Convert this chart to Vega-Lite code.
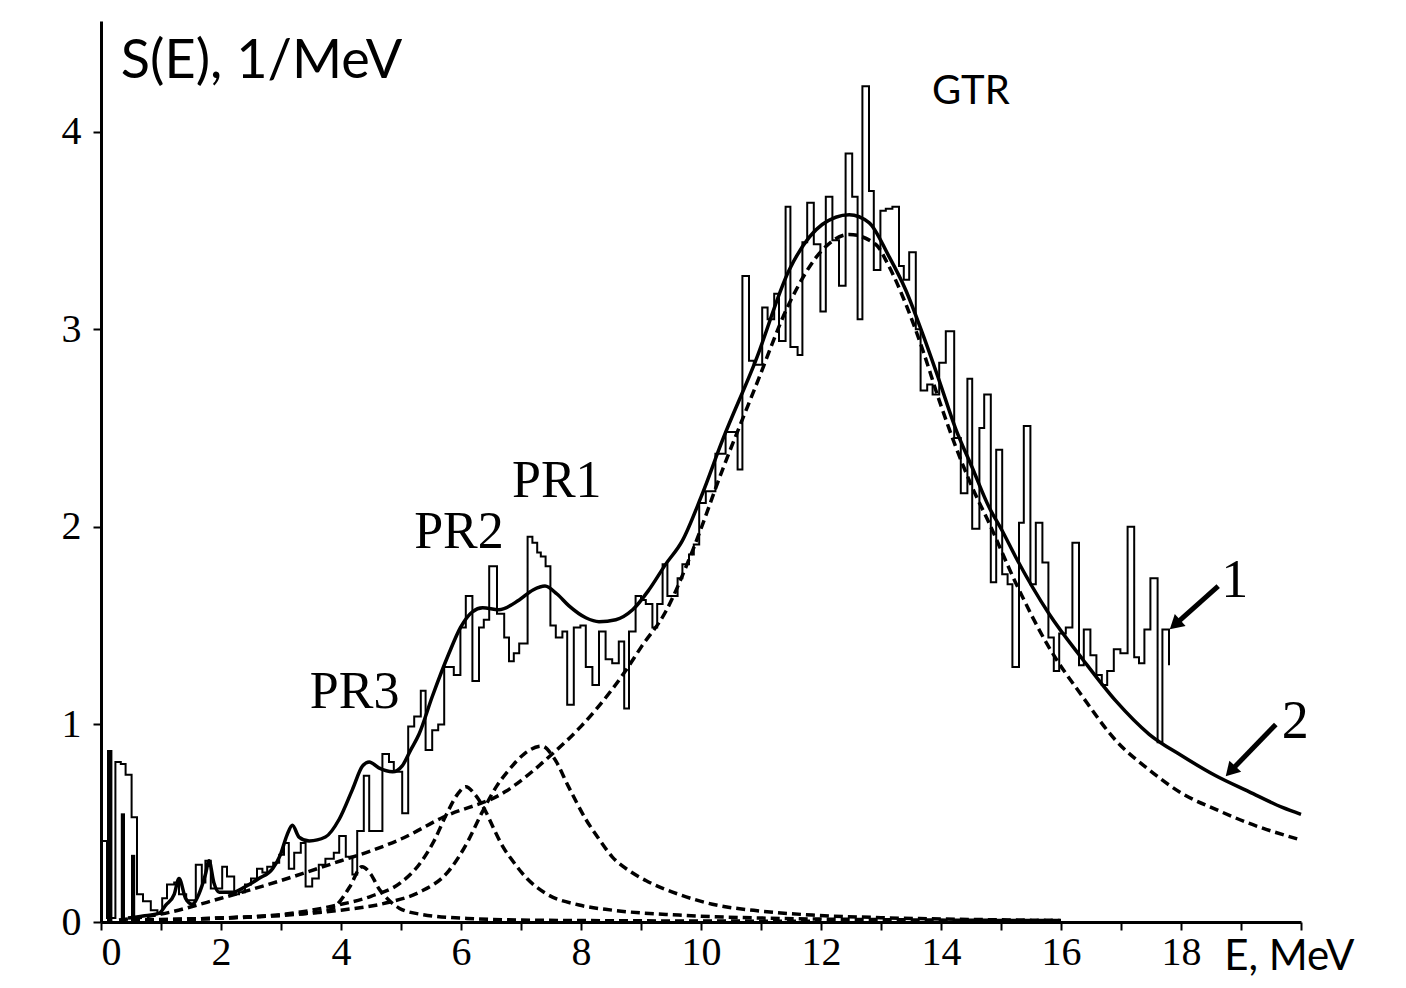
{
  "$schema": "https://vega.github.io/schema/vega-lite/v6.json",
  "width": 1200,
  "height": 901,
  "autosize": "none",
  "padding": {"left": 101, "top": 21, "right": 105, "bottom": 66},
  "background": "white",
  "config": {
    "view": {"stroke": null},
    "axis": {"domainColor": "black", "domainWidth": 3, "tickColor": "black", "tickWidth": 2, "tickSize": 8, "labelFont": "Liberation Serif", "labelFontSize": 40, "labelColor": "black", "grid": false, "title": null, "labelOverlap": false}
  },
  "datasets": {
    "hist": [
      {"E":0.00,"S":0.41},{"E":0.10,"S":0.02},{"E":0.24,"S":0.81},{"E":0.33,"S":0.80},{"E":0.41,"S":0.745},{"E":0.51,"S":0.53},{"E":0.60,"S":0.14},{"E":0.70,"S":0.105},{"E":0.83,"S":0.06},{"E":0.94,"S":0.04},
      {"E":1.02,"S":0.12},{"E":1.10,"S":0.19},{"E":1.22,"S":0.20},{"E":1.30,"S":0.14},{"E":1.42,"S":0.11},{"E":1.58,"S":0.29},{"E":1.68,"S":0.20},{"E":1.74,"S":0.31},{"E":1.83,"S":0.17},{"E":2.02,"S":0.28},
      {"E":2.10,"S":0.23},{"E":2.22,"S":0.14},{"E":2.30,"S":0.15},{"E":2.40,"S":0.19},{"E":2.50,"S":0.22},{"E":2.60,"S":0.27},{"E":2.69,"S":0.25},{"E":2.77,"S":0.28},{"E":2.87,"S":0.30},{"E":2.97,"S":0.34},
      {"E":3.05,"S":0.40},{"E":3.13,"S":0.27},{"E":3.22,"S":0.35},{"E":3.33,"S":0.40},{"E":3.41,"S":0.18},{"E":3.52,"S":0.22},{"E":3.63,"S":0.29},{"E":3.74,"S":0.32},{"E":3.88,"S":0.35},{"E":3.97,"S":0.435},
      {"E":4.08,"S":0.33},{"E":4.19,"S":0.24},{"E":4.27,"S":0.46},{"E":4.38,"S":0.74},{"E":4.47,"S":0.46},{"E":4.58,"S":0.46},{"E":4.69,"S":0.85},{"E":4.80,"S":0.81},{"E":4.88,"S":0.76},{"E":5.02,"S":0.55},
      {"E":5.12,"S":0.99},{"E":5.22,"S":1.04},{"E":5.33,"S":1.17},{"E":5.41,"S":0.87},{"E":5.52,"S":0.97},{"E":5.62,"S":1.00},{"E":5.72,"S":1.29},{"E":5.88,"S":1.25},{"E":5.99,"S":1.49},{"E":6.08,"S":1.65},
      {"E":6.19,"S":1.22},{"E":6.30,"S":1.49},{"E":6.38,"S":1.53},{"E":6.47,"S":1.80},{"E":6.60,"S":1.56},{"E":6.72,"S":1.44},{"E":6.80,"S":1.32},{"E":6.88,"S":1.36},{"E":6.97,"S":1.41},{"E":7.11,"S":1.95},
      {"E":7.19,"S":1.92},{"E":7.27,"S":1.87},{"E":7.33,"S":1.85},{"E":7.41,"S":1.80},{"E":7.49,"S":1.50},{"E":7.58,"S":1.44},{"E":7.69,"S":1.47},{"E":7.77,"S":1.10},{"E":7.88,"S":1.49},{"E":7.99,"S":1.50},
      {"E":8.08,"S":1.29},{"E":8.19,"S":1.20},{"E":8.30,"S":1.47},{"E":8.41,"S":1.33},{"E":8.52,"S":1.31},{"E":8.63,"S":1.42},{"E":8.72,"S":1.08},{"E":8.80,"S":1.47},{"E":8.91,"S":1.65},{"E":9.00,"S":1.63},
      {"E":9.08,"S":1.61},{"E":9.19,"S":1.49},{"E":9.27,"S":1.61},{"E":9.36,"S":1.81},{"E":9.44,"S":1.65},{"E":9.52,"S":1.65},{"E":9.61,"S":1.74},{"E":9.69,"S":1.81},{"E":9.80,"S":1.86},{"E":9.88,"S":1.91},
      {"E":9.97,"S":2.12},{"E":10.08,"S":2.18},{"E":10.24,"S":2.37},{"E":10.41,"S":2.48},{"E":10.61,"S":2.29},{"E":10.69,"S":3.27},{"E":10.80,"S":2.84},{"E":10.88,"S":2.82},{"E":11.02,"S":3.11},{"E":11.11,"S":3.05},
      {"E":11.22,"S":3.18},{"E":11.30,"S":2.94},{"E":11.41,"S":3.62},{"E":11.49,"S":2.91},{"E":11.61,"S":2.87},{"E":11.69,"S":3.44},{"E":11.77,"S":3.64},{"E":11.88,"S":3.43},{"E":11.99,"S":3.09},{"E":12.08,"S":3.67},
      {"E":12.19,"S":3.45},{"E":12.30,"S":3.22},{"E":12.41,"S":3.89},{"E":12.52,"S":3.67},{"E":12.61,"S":3.05},{"E":12.69,"S":4.23},{"E":12.80,"S":3.70},{"E":12.88,"S":3.30},{"E":12.99,"S":3.60},{"E":13.08,"S":3.61},
      {"E":13.19,"S":3.62},{"E":13.30,"S":3.32},{"E":13.38,"S":3.25},{"E":13.47,"S":3.39},{"E":13.58,"S":3.00},{"E":13.66,"S":2.69},{"E":13.77,"S":2.72},{"E":13.86,"S":2.67},{"E":13.97,"S":2.83},{"E":14.08,"S":2.99},
      {"E":14.22,"S":2.45},{"E":14.33,"S":2.17},{"E":14.44,"S":2.75},{"E":14.52,"S":1.99},{"E":14.64,"S":2.50},{"E":14.72,"S":2.67},{"E":14.83,"S":1.72},{"E":14.92,"S":2.39},{"E":15.02,"S":1.76},{"E":15.11,"S":1.71},
      {"E":15.19,"S":1.29},{"E":15.30,"S":2.02},{"E":15.38,"S":2.51},{"E":15.49,"S":1.71},{"E":15.58,"S":2.02},{"E":15.69,"S":1.82},{"E":15.79,"S":1.44},{"E":15.88,"S":1.27},{"E":15.97,"S":1.46},{"E":16.08,"S":1.49},
      {"E":16.19,"S":1.92},{"E":16.30,"S":1.30},{"E":16.38,"S":1.48},{"E":16.49,"S":1.35},{"E":16.59,"S":1.25},{"E":16.68,"S":1.20},{"E":16.77,"S":1.27},{"E":16.88,"S":1.38},{"E":16.99,"S":1.36},{"E":17.11,"S":2.00},
      {"E":17.22,"S":1.34},{"E":17.30,"S":1.31},{"E":17.39,"S":1.48},{"E":17.49,"S":1.74},{"E":17.61,"S":0.91},{"E":17.69,"S":1.48},{"E":17.80,"S":1.30}
    ],
    "bars": [
      {"E":0.10,"E2":0.19,"S":0.87},{"E":0.33,"E2":0.40,"S":0.55},{"E":0.50,"E2":0.57,"S":0.34}
    ],
    "total": [
      {"E":0.45,"S":0.02},{"E":0.7,"S":0.03},{"E":0.97,"S":0.045},{"E":1.08,"S":0.085},{"E":1.22,"S":0.14},{"E":1.30,"S":0.22},{"E":1.41,"S":0.12},{"E":1.52,"S":0.09},{"E":1.63,"S":0.14},{"E":1.74,"S":0.24},
      {"E":1.80,"S":0.31},{"E":1.88,"S":0.20},{"E":1.97,"S":0.15},{"E":2.19,"S":0.15},{"E":2.41,"S":0.18},{"E":2.63,"S":0.22},{"E":2.86,"S":0.27},{"E":2.99,"S":0.34},{"E":3.10,"S":0.44},{"E":3.19,"S":0.49},
      {"E":3.30,"S":0.43},{"E":3.47,"S":0.41},{"E":3.74,"S":0.43},{"E":3.97,"S":0.52},{"E":4.19,"S":0.67},{"E":4.36,"S":0.79},{"E":4.47,"S":0.81},{"E":4.63,"S":0.78},{"E":4.86,"S":0.76},{"E":5.02,"S":0.79},
      {"E":5.16,"S":0.87},{"E":5.30,"S":0.95},{"E":5.52,"S":1.14},{"E":5.80,"S":1.36},{"E":5.99,"S":1.49},{"E":6.19,"S":1.57},{"E":6.36,"S":1.59},{"E":6.63,"S":1.58},{"E":6.97,"S":1.63},{"E":7.20,"S":1.68},
      {"E":7.40,"S":1.70},{"E":7.60,"S":1.66},{"E":7.80,"S":1.60},{"E":8.08,"S":1.54},{"E":8.30,"S":1.52},{"E":8.58,"S":1.53},{"E":8.86,"S":1.58},{"E":9.13,"S":1.68},{"E":9.41,"S":1.81},{"E":9.69,"S":1.93},
      {"E":10.00,"S":2.15},{"E":10.36,"S":2.44},{"E":10.91,"S":2.84},{"E":11.47,"S":3.30},{"E":12.02,"S":3.53},{"E":12.47,"S":3.58},{"E":12.80,"S":3.54},{"E":13.13,"S":3.37},{"E":13.41,"S":3.20},{"E":13.69,"S":2.98},
      {"E":13.97,"S":2.74},{"E":14.24,"S":2.50},{"E":14.52,"S":2.30},{"E":14.80,"S":2.10},{"E":15.02,"S":1.98},{"E":15.24,"S":1.85},{"E":15.80,"S":1.56},{"E":16.36,"S":1.33},{"E":16.91,"S":1.12},{"E":17.47,"S":0.95},
      {"E":18.02,"S":0.84},{"E":18.58,"S":0.74},{"E":19.13,"S":0.66},{"E":19.69,"S":0.58},{"E":20.00,"S":0.545}
    ],
    "gtr": [
      {"E":0.3,"S":0.01},{"E":1.0,"S":0.04},{"E":2.0,"S":0.12},{"E":3.0,"S":0.21},{"E":4.0,"S":0.31},{"E":4.5,"S":0.36},{"E":5.0,"S":0.42},{"E":5.7,"S":0.53},{"E":6.74,"S":0.66},{"E":7.52,"S":0.85},
      {"E":8.0,"S":0.99},{"E":8.5,"S":1.17},{"E":8.74,"S":1.27},{"E":9.0,"S":1.39},{"E":9.41,"S":1.57},{"E":9.86,"S":1.88},{"E":10.36,"S":2.29},{"E":10.91,"S":2.71},{"E":11.47,"S":3.13},{"E":12.02,"S":3.40},
      {"E":12.47,"S":3.48},{"E":12.91,"S":3.43},{"E":13.13,"S":3.32},{"E":13.41,"S":3.13},{"E":13.69,"S":2.90},{"E":13.97,"S":2.64},{"E":14.24,"S":2.41},{"E":14.52,"S":2.20},{"E":14.8,"S":2.02},{"E":15.24,"S":1.72},
      {"E":15.8,"S":1.39},{"E":16.36,"S":1.14},{"E":16.91,"S":0.92},{"E":17.47,"S":0.77},{"E":18.02,"S":0.65},{"E":18.58,"S":0.57},{"E":19.13,"S":0.50},{"E":20.0,"S":0.415}
    ],
    "pr1": [
      {"E":0.5,"S":0.01},{"E":2.0,"S":0.02},{"E":3.0,"S":0.035},{"E":4.0,"S":0.06},{"E":4.8,"S":0.1},{"E":5.3,"S":0.15},{"E":5.8,"S":0.26},{"E":6.1,"S":0.40},{"E":6.36,"S":0.56},{"E":6.6,"S":0.69},
      {"E":6.8,"S":0.77},{"E":7.05,"S":0.85},{"E":7.35,"S":0.89},{"E":7.55,"S":0.83},{"E":7.8,"S":0.68},{"E":8.08,"S":0.52},{"E":8.3,"S":0.42},{"E":8.52,"S":0.33},{"E":8.8,"S":0.26},{"E":9.08,"S":0.21},
      {"E":9.63,"S":0.14},{"E":10.19,"S":0.09},{"E":11.0,"S":0.055},{"E":11.86,"S":0.035},{"E":13.0,"S":0.022},{"E":14.5,"S":0.013},{"E":16.0,"S":0.008}
    ],
    "pr2": [
      {"E":0.5,"S":0.01},{"E":2.0,"S":0.02},{"E":3.08,"S":0.04},{"E":3.85,"S":0.08},{"E":4.5,"S":0.13},{"E":5.0,"S":0.2},{"E":5.3,"S":0.29},{"E":5.55,"S":0.41},{"E":5.75,"S":0.54},{"E":5.95,"S":0.65},
      {"E":6.08,"S":0.685},{"E":6.22,"S":0.65},{"E":6.41,"S":0.56},{"E":6.55,"S":0.47},{"E":6.7,"S":0.38},{"E":6.86,"S":0.31},{"E":7.1,"S":0.22},{"E":7.41,"S":0.145},{"E":7.97,"S":0.086},{"E":8.52,"S":0.06},
      {"E":9.63,"S":0.035},{"E":11.0,"S":0.02},{"E":13.0,"S":0.012},{"E":16.0,"S":0.007}
    ],
    "pr3": [
      {"E":0.5,"S":0.005},{"E":1.5,"S":0.015},{"E":2.5,"S":0.025},{"E":3.3,"S":0.04},{"E":3.8,"S":0.06},{"E":3.97,"S":0.1},{"E":4.15,"S":0.18},{"E":4.35,"S":0.28},{"E":4.5,"S":0.24},{"E":4.63,"S":0.17},
      {"E":4.8,"S":0.11},{"E":4.97,"S":0.07},{"E":5.35,"S":0.038},{"E":6.1,"S":0.018},{"E":7.0,"S":0.01},{"E":9.0,"S":0.006},{"E":12.0,"S":0.004}
    ]
  },
  "layer": [
    {"data": {"name": "hist"}, "mark": {"type": "line", "interpolate": "step-after", "color": "black", "strokeWidth": 2},
     "encoding": {
       "x": {"field": "E", "type": "quantitative", "scale": {"domain": [0, 20], "nice": false, "zero": false},
             "axis": {"values": [0,1,2,3,4,5,6,7,8,9,10,11,12,13,14,15,16,17,18,19,20], "format": "d", "labelExpr": "datum.value % 2 === 0 && datum.value < 20 ? datum.label : ''", "labelFlush": true, "labelPadding": 2}},
       "y": {"field": "S", "type": "quantitative", "scale": {"domain": [0, 4.56], "nice": false, "zero": false},
             "axis": {"values": [0,0.5,1,1.5,2,2.5,3,3.5,4,4.5], "format": "d", "labelExpr": "datum.value % 1 === 0 ? datum.label : ''", "labelFlush": false, "labelPadding": 12}}
     }},
    {"data": {"name": "bars"}, "mark": {"type": "bar", "color": "black"},
     "encoding": {"x": {"field": "E", "type": "quantitative", "scale": {"domain": [0, 20], "nice": false, "zero": false}}, "x2": {"field": "E2"},
                  "y": {"field": "S", "type": "quantitative", "scale": {"domain": [0, 4.56], "nice": false, "zero": false}}, "y2": {"datum": 0}}},
    {"data": {"name": "pr3"}, "mark": {"type": "line", "interpolate": "monotone", "color": "black", "strokeWidth": 3.5, "strokeDash": [9, 5]},
     "encoding": {"x": {"field": "E", "type": "quantitative", "scale": {"domain": [0, 20], "nice": false, "zero": false}},
                  "y": {"field": "S", "type": "quantitative", "scale": {"domain": [0, 4.56], "nice": false, "zero": false}}}},
    {"data": {"name": "pr2"}, "mark": {"type": "line", "interpolate": "monotone", "color": "black", "strokeWidth": 3.5, "strokeDash": [9, 5]},
     "encoding": {"x": {"field": "E", "type": "quantitative", "scale": {"domain": [0, 20], "nice": false, "zero": false}},
                  "y": {"field": "S", "type": "quantitative", "scale": {"domain": [0, 4.56], "nice": false, "zero": false}}}},
    {"data": {"name": "pr1"}, "mark": {"type": "line", "interpolate": "monotone", "color": "black", "strokeWidth": 3.5, "strokeDash": [9, 5]},
     "encoding": {"x": {"field": "E", "type": "quantitative", "scale": {"domain": [0, 20], "nice": false, "zero": false}},
                  "y": {"field": "S", "type": "quantitative", "scale": {"domain": [0, 4.56], "nice": false, "zero": false}}}},
    {"data": {"name": "gtr"}, "mark": {"type": "line", "interpolate": "monotone", "color": "black", "strokeWidth": 3.5, "strokeDash": [9, 5]},
     "encoding": {"x": {"field": "E", "type": "quantitative", "scale": {"domain": [0, 20], "nice": false, "zero": false}},
                  "y": {"field": "S", "type": "quantitative", "scale": {"domain": [0, 4.56], "nice": false, "zero": false}}}},
    {"data": {"name": "total"}, "mark": {"type": "line", "interpolate": "monotone", "color": "black", "strokeWidth": 3.5},
     "encoding": {"x": {"field": "E", "type": "quantitative", "scale": {"domain": [0, 20], "nice": false, "zero": false}},
                  "y": {"field": "S", "type": "quantitative", "scale": {"domain": [0, 4.56], "nice": false, "zero": false}}}},
    {"data": {"values": [{}]}, "mark": {"type": "text", "text": "S(E), 1/MeV", "font": "Lato", "fontSize": 54, "align": "left", "baseline": "alphabetic", "color": "black"}, "encoding": {"x": {"datum": 0.33, "type": "quantitative"}, "y": {"datum": 4.27, "type": "quantitative"}}},
    {"data": {"values": [{}]}, "mark": {"type": "text", "text": "GTR", "font": "Lato", "fontSize": 40, "align": "left", "baseline": "alphabetic", "color": "black"}, "encoding": {"x": {"datum": 13.85, "type": "quantitative"}, "y": {"datum": 4.14, "type": "quantitative"}}},
    {"data": {"values": [{}]}, "mark": {"type": "text", "text": "E, MeV", "font": "Lato", "fontSize": 42, "align": "left", "baseline": "alphabetic", "color": "black"}, "encoding": {"x": {"datum": 18.72, "type": "quantitative"}, "y": {"datum": -0.243, "type": "quantitative"}}},
    {"data": {"values": [{}]}, "mark": {"type": "text", "text": "PR1", "font": "Liberation Serif", "fontSize": 52, "align": "left", "baseline": "alphabetic", "color": "black"}, "encoding": {"x": {"datum": 6.85, "type": "quantitative"}, "y": {"datum": 2.15, "type": "quantitative"}}},
    {"data": {"values": [{}]}, "mark": {"type": "text", "text": "PR2", "font": "Liberation Serif", "fontSize": 52, "align": "left", "baseline": "alphabetic", "color": "black"}, "encoding": {"x": {"datum": 5.22, "type": "quantitative"}, "y": {"datum": 1.893, "type": "quantitative"}}},
    {"data": {"values": [{}]}, "mark": {"type": "text", "text": "PR3", "font": "Liberation Serif", "fontSize": 52, "align": "left", "baseline": "alphabetic", "color": "black"}, "encoding": {"x": {"datum": 3.48, "type": "quantitative"}, "y": {"datum": 1.083, "type": "quantitative"}}},
    {"data": {"values": [{}]}, "mark": {"type": "text", "text": "1", "font": "Liberation Serif", "fontSize": 54, "align": "left", "baseline": "alphabetic", "color": "black"}, "encoding": {"x": {"datum": 18.67, "type": "quantitative"}, "y": {"datum": 1.645, "type": "quantitative"}}},
    {"data": {"values": [{}]}, "mark": {"type": "text", "text": "2", "font": "Liberation Serif", "fontSize": 54, "align": "left", "baseline": "alphabetic", "color": "black"}, "encoding": {"x": {"datum": 19.68, "type": "quantitative"}, "y": {"datum": 0.931, "type": "quantitative"}}},
    {"data": {"values": [{}]}, "mark": {"type": "rule", "color": "black", "strokeWidth": 5}, "encoding": {"x": {"datum": 18.62, "type": "quantitative"}, "y": {"datum": 1.70, "type": "quantitative"}, "x2": {"datum": 17.9}, "y2": {"datum": 1.505}}},
    {"data": {"values": [{}]}, "mark": {"type": "point", "shape": "triangle-up", "filled": true, "color": "black", "opacity": 1, "size": 260, "angle": 228}, "encoding": {"x": {"datum": 17.9, "type": "quantitative"}, "y": {"datum": 1.505, "type": "quantitative"}}},
    {"data": {"values": [{}]}, "mark": {"type": "rule", "color": "black", "strokeWidth": 5}, "encoding": {"x": {"datum": 19.58, "type": "quantitative"}, "y": {"datum": 1.0, "type": "quantitative"}, "x2": {"datum": 18.825}, "y2": {"datum": 0.763}}},
    {"data": {"values": [{}]}, "mark": {"type": "point", "shape": "triangle-up", "filled": true, "color": "black", "opacity": 1, "size": 260, "angle": 223}, "encoding": {"x": {"datum": 18.825, "type": "quantitative"}, "y": {"datum": 0.763, "type": "quantitative"}}}
  ]
}
